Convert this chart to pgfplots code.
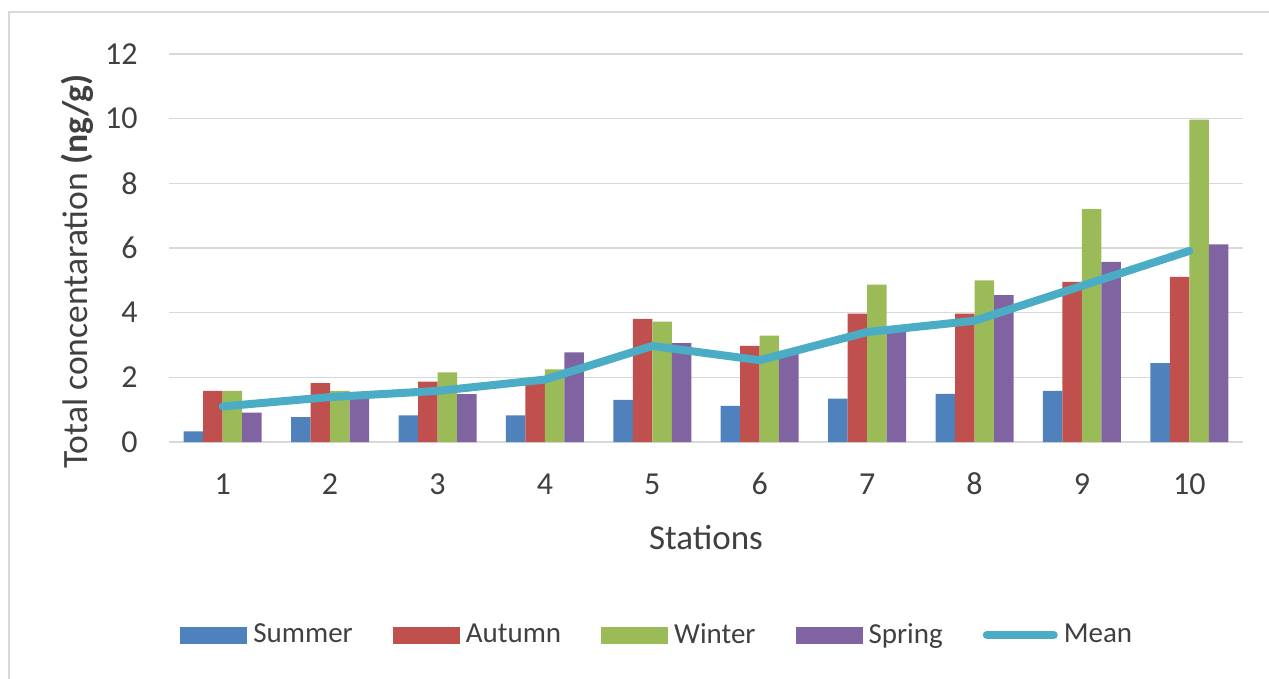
\documentclass[border=0pt]{standalone}
\usepackage{fontspec}
\setmainfont{Carlito}
\usepackage{pgfplots}
\pgfplotsset{compat=1.18}
\definecolor{cSummer}{HTML}{4F81BD}
\definecolor{cAutumn}{HTML}{C0504D}
\definecolor{cWinter}{HTML}{9BBB59}
\definecolor{cSpring}{HTML}{8064A2}
\definecolor{cMean}{HTML}{4BACC6}
\definecolor{gridGray}{HTML}{D9D9D9}
\definecolor{frameGray}{HTML}{D9D9D9}
\definecolor{textGray}{HTML}{404040}
\begin{document}
\begin{tikzpicture}
\useasboundingbox (-84.5bp,-118.5bp) rectangle (550bp,221bp);
\draw[color=frameGray, line width=1bp] (-80bp,-140bp) rectangle (570bp,215bp);
\begin{axis}[
  at={(0,0)}, anchor=south west,
  scale only axis, width=537bp, height=194bp,
  xmin=0.5, xmax=10.5, ymin=0, ymax=12,
  xtick={1,2,3,4,5,6,7,8,9,10}, ytick={0,2,4,6,8,10,12},
  axis line style={draw=none},
  major tick length=0pt,
  ymajorgrids, grid style={color=gridGray, line width=0.75bp},
  /pgf/number format/assume math mode=true,
  ticklabel style={font=\fontsize{16bp}{18bp}\selectfont, text=textGray},
  xticklabel style={anchor=center, inner sep=0pt, yshift=-21bp},
  yticklabel style={anchor=east, inner sep=0pt, xshift=-15.5bp},
  xlabel={Stations},
  ylabel={Total concentaration \textbf{(ng/g)}},
  xlabel style={at={(axis description cs:0.5,0)}, anchor=center, inner sep=0pt, yshift=-48bp, font=\fontsize{17.5bp}{20bp}\selectfont, text=textGray},
  ylabel style={at={(axis description cs:-0.0857,0.44)}, anchor=center, inner sep=0pt, font=\fontsize{17.8bp}{20bp}\selectfont, text=textGray},
  legend columns=5,
  legend style={at={(axis description cs:0,0)}, anchor=west, xshift=5.5bp, yshift=-96.5bp,
    draw=none, fill=none, inner sep=0pt,
    font=\fontsize{14.5bp}{17bp}\selectfont, text=textGray,
    nodes={inner sep=0pt},
    /tikz/every odd column/.append style={column sep=3bp},
    /tikz/every even column/.append style={column sep=20bp}},
  legend cell align=left,
]
\addplot[ybar, bar width=9.75bp, bar shift=-14.625bp, fill=cSummer, draw=none,
  legend image code/.code={\fill[cSummer] (0bp,-4.25bp) rectangle (33.5bp,4.25bp);}]
  coordinates {(1,0.33) (2,0.77) (3,0.82) (4,0.82) (5,1.30) (6,1.12) (7,1.34) (8,1.49) (9,1.58) (10,2.44)};
\addlegendentry{Summer}
\addplot[ybar, bar width=9.75bp, bar shift=-4.875bp, fill=cAutumn, draw=none,
  legend image code/.code={\fill[cAutumn] (0bp,-4.25bp) rectangle (33.5bp,4.25bp);}]
  coordinates {(1,1.58) (2,1.82) (3,1.87) (4,1.88) (5,3.81) (6,2.97) (7,3.97) (8,3.97) (9,4.95) (10,5.11)};
\addlegendentry{Autumn}
\addplot[ybar, bar width=9.75bp, bar shift=4.875bp, fill=cWinter, draw=none,
  legend image code/.code={\fill[cWinter] (0bp,-4.25bp) rectangle (33.5bp,4.25bp);}]
  coordinates {(1,1.58) (2,1.58) (3,2.15) (4,2.25) (5,3.72) (6,3.29) (7,4.87) (8,5.00) (9,7.20) (10,9.97)};
\addlegendentry{Winter}
\addplot[ybar, bar width=9.75bp, bar shift=14.625bp, fill=cSpring, draw=none,
  legend image code/.code={\fill[cSpring] (0bp,-4.25bp) rectangle (33.5bp,4.25bp);}]
  coordinates {(1,0.91) (2,1.40) (3,1.48) (4,2.77) (5,3.06) (6,2.75) (7,3.40) (8,4.54) (9,5.57) (10,6.11)};
\addlegendentry{Spring}
\addplot[sharp plot, color=cMean, line width=4bp, line cap=round, line join=round, mark=none,
  legend image code/.code={\draw[cMean, line width=4bp, line cap=round] (0bp,0bp) -- (33.5bp,0bp);}]
  coordinates {(1,1.10) (2,1.39) (3,1.58) (4,1.93) (5,2.97) (6,2.53) (7,3.40) (8,3.75) (9,4.83) (10,5.91)};
\addlegendentry{Mean}
\end{axis}
\end{tikzpicture}
\end{document}
